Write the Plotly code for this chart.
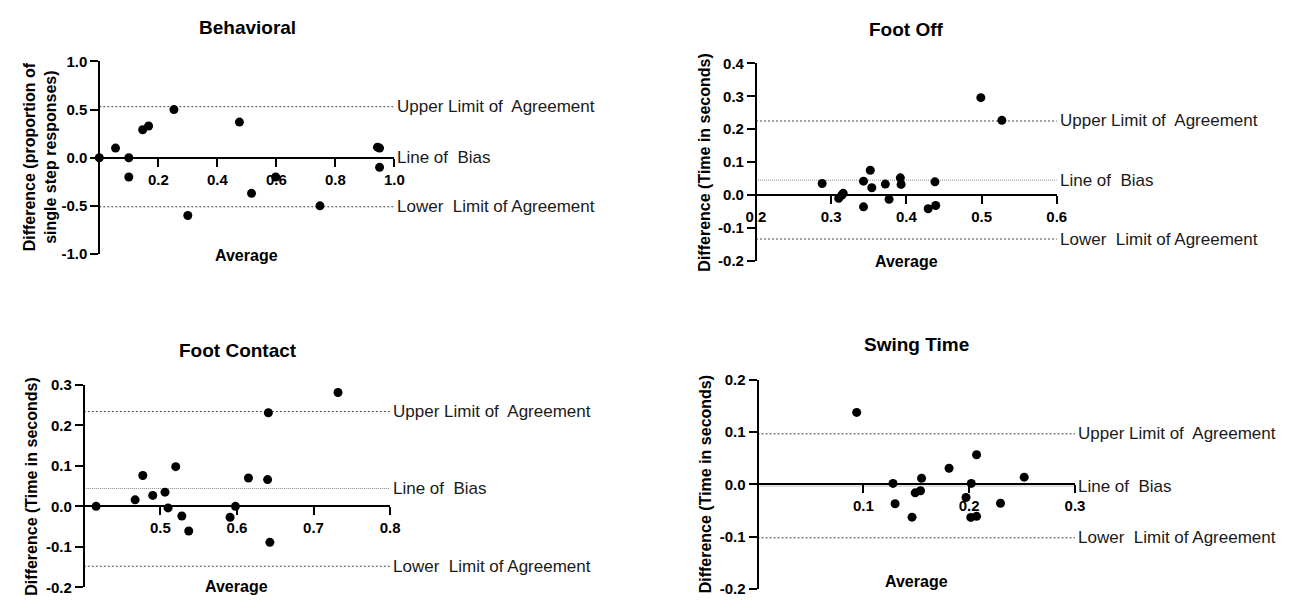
import plotly.graph_objects as go

W, H = 1303, 606

# ---------------- data ----------------
beh_avg = [0.0, 0.055, 0.10, 0.10, 0.147, 0.167, 0.253, 0.30, 0.475, 0.516, 0.598, 0.748, 0.943, 0.95, 0.95]
beh_diff = [0.0, 0.10, 0.0, -0.20, 0.29, 0.33, 0.50, -0.60, 0.37, -0.37, -0.20, -0.50, 0.11, 0.10, -0.10]
beh_limits = {"upper": 0.53, "bias": 0.0, "lower": -0.51}

off_avg = [0.288, 0.310, 0.314, 0.316, 0.343, 0.343, 0.352, 0.354, 0.372, 0.377, 0.392, 0.393, 0.429, 0.438, 0.439, 0.499, 0.527]
off_diff = [0.035, -0.010, -0.001, 0.005, 0.042, -0.036, 0.075, 0.022, 0.033, -0.013, 0.052, 0.032, -0.042, 0.040, -0.032, 0.296, 0.227]
off_limits = {"upper": 0.225, "bias": 0.045, "lower": -0.134}

con_avg = [0.416, 0.467, 0.477, 0.490, 0.506, 0.510, 0.520, 0.528, 0.537, 0.591, 0.598, 0.615, 0.641, 0.640, 0.643, 0.732]
con_diff = [0.0, 0.016, 0.076, 0.027, 0.035, -0.004, 0.098, -0.024, -0.061, -0.027, 0.0, 0.070, 0.231, 0.066, -0.089, 0.281]
con_limits = {"upper": 0.234, "bias": 0.044, "lower": -0.148}

swg_avg = [0.0937, 0.128, 0.130, 0.146, 0.149, 0.154, 0.155, 0.181, 0.197, 0.202, 0.2015, 0.207, 0.207, 0.2296, 0.252]
swg_diff = [0.138, 0.002, -0.037, -0.0625, -0.016, -0.012, 0.012, 0.031, -0.025, 0.002, -0.063, 0.057, -0.061, -0.036, 0.014]
swg_limits = {"upper": 0.097, "bias": -0.003, "lower": -0.102}

beh_xticks = [0.2, 0.4, 0.6, 0.8, 1.0]
beh_xtext = ["0.2", "0.4", "0.6", "0.8", "1.0"]
beh_yticks = [-1.0, -0.5, 0.0, 0.5, 1.0]
beh_ytext = ["-1.0", "-0.5", "0.0", "0.5", "1.0"]

off_xticks = [0.2, 0.3, 0.4, 0.5, 0.6]
off_xtext = ["0.2", "0.3", "0.4", "0.5", "0.6"]
off_yticks = [-0.2, -0.1, 0.0, 0.1, 0.2, 0.3, 0.4]
off_ytext = ["-0.2", "-0.1", "0.0", "0.1", "0.2", "0.3", "0.4"]

con_xticks = [0.5, 0.6, 0.7, 0.8]
con_xtext = ["0.5", "0.6", "0.7", "0.8"]
con_yticks = [-0.2, -0.1, 0.0, 0.1, 0.2, 0.3]
con_ytext = ["-0.2", "-0.1", "0.0", "0.1", "0.2", "0.3"]

swg_xticks = [0.1, 0.2, 0.3]
swg_xtext = ["0.1", "0.2", "0.3"]
swg_yticks = [-0.2, -0.1, 0.0, 0.1, 0.2]
swg_ytext = ["-0.2", "-0.1", "0.0", "0.1", "0.2"]

titles = ["Behavioral", "Foot Off", "Foot Contact", "Swing Time"]
ytitles = ["Difference (proportion of<br>single step responses)",
           "Difference (Time in seconds)",
           "Difference (Time in seconds)",
           "Difference (Time in seconds)"]
limit_labels = {"upper": "Upper Limit of  Agreement", "bias": "Line of  Bias",
                "lower": "Lower  Limit of Agreement"}

# ---------------- layout geometry (pixels) ----------------
panels = [
    dict(avg=beh_avg, diff=beh_diff, lim=beh_limits, xr=[0, 1.0], yr=[-1.0, 1.0],
         xt=beh_xticks, xtt=beh_xtext, yt=beh_yticks, ytt=beh_ytext,
         box=(90.7, 390.3, 54, 252), title=(241, 19), avgpos=(240.3, 254), ytpos=(30.6, 152.5)),
    dict(avg=off_avg, diff=off_diff, lim=off_limits, xr=[0.2, 0.6], yr=[-0.2, 0.4],
         xt=off_xticks, xtt=off_xtext, yt=off_yticks, ytt=off_ytext,
         box=(757.6, 1063.1, 56, 259), title=(910, 21), avgpos=(910, 260), ytpos=(705.9, 158)),
    dict(avg=con_avg, diff=con_diff, lim=con_limits, xr=[0.4, 0.8], yr=[-0.2, 0.3],
         xt=con_xticks, xtt=con_xtext, yt=con_yticks, ytt=con_ytext,
         box=(75, 386, 386.7, 595), title=(231.5, 351.7), avgpos=(229.6, 594), ytpos=(21.8, 491)),
    dict(avg=swg_avg, diff=swg_diff, lim=swg_limits, xr=[0, 0.3], yr=[-0.2, 0.2],
         xt=swg_xticks, xtt=swg_xtext, yt=swg_yticks, ytt=swg_ytext,
         box=(759.2, 1081.6, 381.7, 596.7), title=(920.4, 345), avgpos=(920.4, 589), ytpos=(705.9, 489)),
]

BOLD = dict(family="Liberation Sans, Arial, sans-serif", size=15, color="black", weight="bold")
LABEL = dict(family="Liberation Sans, Arial", size=17, color="#1a1a1a")

fig = go.Figure()
layout = dict(width=W, height=H, autosize=False, margin=dict(l=0, r=0, t=0, b=0),
              paper_bgcolor="white", plot_bgcolor="white", showlegend=False)
annotations = []
shapes = []

def px(x):
    return x / W

def py(y):
    return 1 - y / H

for i, p in enumerate(panels, start=1):
    xa = "xaxis" if i == 1 else f"xaxis{i}"
    ya = "yaxis" if i == 1 else f"yaxis{i}"
    xr = "x" if i == 1 else f"x{i}"
    yr = "y" if i == 1 else f"y{i}"
    x0, x1, ytop, ybot = p["box"]
    ydom = [py(ybot), py(ytop)]
    frac0 = (0 - p["yr"][0]) / (p["yr"][1] - p["yr"][0])
    xpos = ydom[0] + frac0 * (ydom[1] - ydom[0])
    layout[xa] = dict(domain=[px(x0), px(x1)], range=p["xr"], anchor="free", position=xpos,
                      showline=True, linecolor="black", linewidth=2, ticks="outside",
                      ticklen=8, tickwidth=2, tickcolor="black", tickvals=p["xt"], ticktext=p["xtt"],
                      tickfont=BOLD, showgrid=False, zeroline=False)
    layout[ya] = dict(domain=ydom, range=p["yr"], anchor="free", position=px(x0),
                      showline=True, linecolor="black", linewidth=2, ticks="outside",
                      ticklen=8, tickwidth=2, tickcolor="black", tickvals=p["yt"], ticktext=p["ytt"],
                      tickfont=BOLD, showgrid=False, zeroline=False)
    for key in ["upper", "bias", "lower"]:
        if key == "bias":
            line = dict(color="#8a8a8a", width=1, dash="1px,1px")
        else:
            line = dict(color="#444444", width=1, dash="2px,2px")
        shapes.append(dict(type="line", xref=f"{xr} domain", yref=yr, x0=0, x1=1,
                           y0=p["lim"][key], y1=p["lim"][key], layer="below", line=line))
        annotations.append(dict(xref=f"{xr} domain", yref=yr, x=1, y=p["lim"][key], xshift=1,
                                text=limit_labels[key], showarrow=False, xanchor="left",
                                yanchor="middle", font=LABEL))
    fig.add_trace(go.Scatter(x=p["avg"], y=p["diff"], mode="markers", xaxis=xr, yaxis=yr,
                             marker=dict(color="black", size=9), cliponaxis=False))
    annotations.append(dict(xref="paper", yref="paper", x=px(p["title"][0]), y=py(p["title"][1]),
                            text=titles[i - 1], showarrow=False, xanchor="center", yanchor="middle",
                            font=dict(family="Liberation Sans, Arial", size=19, color="black", weight="bold")))
    annotations.append(dict(xref="paper", yref="paper", x=px(p["avgpos"][0]), y=py(p["avgpos"][1]),
                            text="Average", showarrow=False, xanchor="center", yanchor="middle",
                            font=dict(family="Liberation Sans, Arial", size=16, color="black", weight="bold")))
    annotations.append(dict(xref="paper", yref="paper", x=px(p["ytpos"][0]), y=py(p["ytpos"][1]),
                            text=ytitles[i - 1], showarrow=False, xanchor="center", yanchor="middle",
                            textangle=-90,
                            font=dict(family="Liberation Sans, Arial", size=16, color="black", weight="bold")))

layout["annotations"] = annotations
layout["shapes"] = shapes
fig.update_layout(**layout)
fig.write_html("out.html", config={"displayModeBar": False},
               post_script="document.body.style.margin='0';")
